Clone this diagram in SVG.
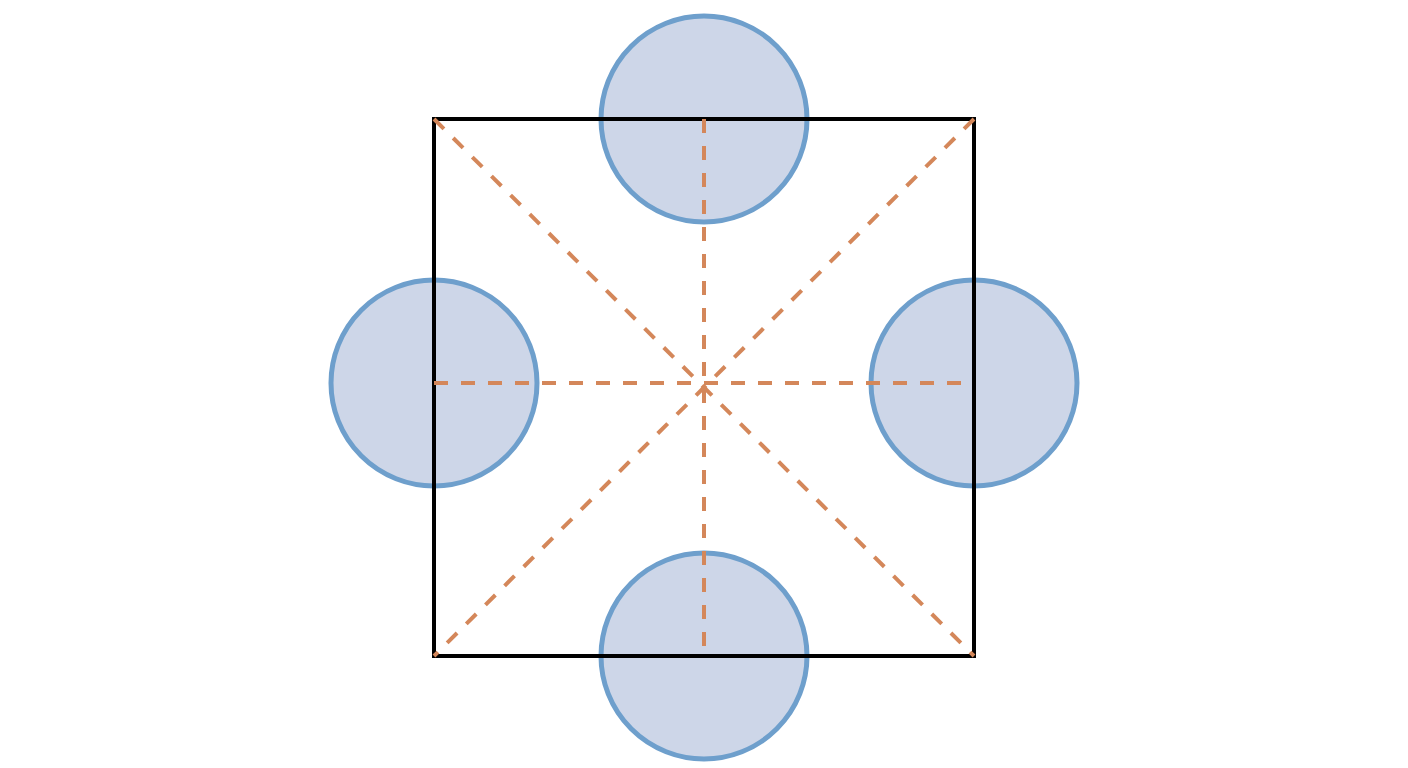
<svg xmlns="http://www.w3.org/2000/svg" width="1408" height="768" viewBox="0 0 1408 768">
  <style>
    .circ { fill: #cdd6e8; stroke: #6e9fcc; stroke-width: 5; }
    .sq { fill: none; stroke: #000000; stroke-width: 4; }
    .dash { stroke: #d4875a; stroke-width: 4; stroke-dasharray: 14 13; fill: none; }
  </style>
  <rect width="1408" height="768" fill="#ffffff"/>
  <g id="circle-top"><circle class="circ" cx="704" cy="119" r="103"/></g>
  <g id="circle-left"><circle class="circ" cx="434" cy="383" r="103"/></g>
  <g id="circle-right"><circle class="circ" cx="974" cy="383" r="103"/></g>
  <g id="circle-bottom"><circle class="circ" cx="704" cy="656" r="103"/></g>
  <g id="square"><rect class="sq" x="434" y="119" width="540" height="537"/></g>
  <g id="connectors">
    <line class="dash" x1="434" y1="119" x2="974" y2="656"/>
    <line class="dash" x1="974" y1="119" x2="434" y2="656"/>
    <line class="dash" x1="704" y1="119" x2="704" y2="656"/>
    <line class="dash" x1="434" y1="383" x2="974" y2="383"/>
  </g>
</svg>
